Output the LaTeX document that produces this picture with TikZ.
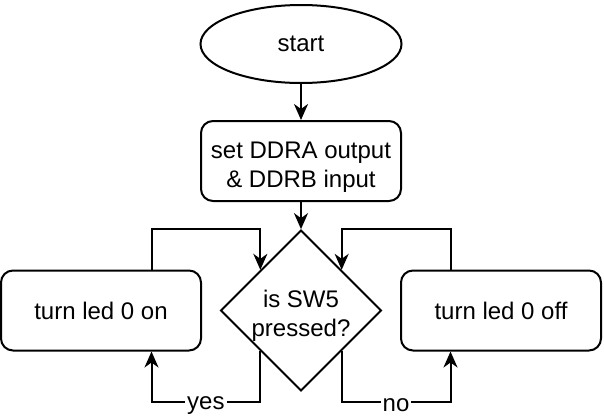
\documentclass[tikz,border=0pt]{standalone}
\usepackage{fontspec}
\setmainfont{Liberation Sans}
\usetikzlibrary{shapes.geometric,arrows.meta,calc}

\begin{document}
\begin{tikzpicture}[x=0.5pt, y=-0.5pt, node distance=100pt, line width=1pt,
    font=\fontsize{12}{14.5}\selectfont,
    box/.style={draw, rectangle, rounded corners=6pt, minimum width=100pt, minimum height=40pt, align=center},
    arr/.style={-{Stealth[length=8pt, width=7pt, inset=2.5pt]}},
    lbl/.style={fill=white, inner sep=1pt, yshift=-2pt}]
    \useasboundingbox (0,0) rectangle (604,418);

    \node [draw, ellipse, minimum width=100.5pt, minimum height=39pt] (start) at (301,44) {start};
    \node [box, below of=start, node distance=58.5pt] (setup) {\rule{0pt}{14pt}set DDRA output\\\& DDRB input};
    \node [draw, diamond, aspect=1, minimum width=80pt, minimum height=80pt, inner sep=0pt, align=center, below of=setup, node distance=74.75pt] (sw5) {\rule{0pt}{14pt}is SW5\\pressed?};
    \node [box, left of=sw5] (ledon) {turn led 0 on};
    \node [box, right of=sw5] (ledoff) {turn led 0 off};

    \coordinate (swnw) at ($(sw5.west)!0.5!(sw5.north)$);
    \coordinate (swne) at ($(sw5.east)!0.5!(sw5.north)$);
    \coordinate (swsw) at ($(sw5.west)!0.5!(sw5.south)$);
    \coordinate (swse) at ($(sw5.east)!0.5!(sw5.south)$);
    \coordinate (onup) at ($(ledon.north)!0.5!(ledon.north east)$);
    \coordinate (ondown) at ($(ledon.south)!0.5!(ledon.south east)$);
    \coordinate (offup) at ($(ledoff.north)!0.5!(ledoff.north west)$);
    \coordinate (offdown) at ($(ledoff.south)!0.5!(ledoff.south west)$);
    \coordinate (bottom) at ([yshift=-25pt]ledon.south);

    \draw [arr] (start) -- (setup);
    \draw [arr] (setup) -- (sw5);
    \draw [arr] (onup) -- (onup |- sw5.north) -- (swnw |- sw5.north) -- (swnw);
    \draw [arr] (offup) -- (offup |- sw5.north) -- (swne |- sw5.north) -- (swne);
    \draw [arr] (swsw) -- (swsw |- bottom) -- node [lbl] {yes} (ondown |- bottom) -- (ondown);
    \draw [arr] (swse) -- (swse |- bottom) -- node [lbl] {no} (offdown |- bottom) -- (offdown);
\end{tikzpicture}
\end{document}
